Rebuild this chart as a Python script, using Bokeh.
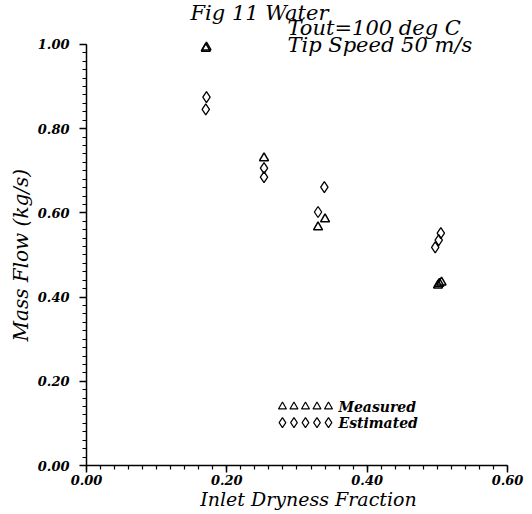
from bokeh.plotting import figure
from bokeh.models import FixedTicker, Range1d, Label, Title
from bokeh.embed import file_html
from bokeh.resources import INLINE

# ---- data ----
measured_x = [0.170, 0.171, 0.253, 0.340, 0.330, 0.501, 0.503, 0.506]
measured_y = [0.990, 0.993, 0.730, 0.585, 0.566, 0.428, 0.432, 0.435]
estimated_x = [0.171, 0.170, 0.253, 0.253, 0.339, 0.330, 0.497, 0.502, 0.505]
estimated_y = [0.875, 0.846, 0.706, 0.685, 0.661, 0.602, 0.518, 0.535, 0.552]

x_ticks = [0.0, 0.2, 0.4, 0.6]
y_ticks = [0.0, 0.2, 0.4, 0.6, 0.8, 1.0]
x_tick_labels = {0.0: "0.00", 0.2: "0.20", 0.4: "0.40", 0.6: "0.60"}
y_tick_labels = {0.0: "0.00", 0.2: "0.20", 0.4: "0.40", 0.6: "0.60", 0.8: "0.80", 1.0: "1.00"}
minor_step = 0.02

title_lines = ["Fig 11 Water", "Tout=100 deg C", "Tip Speed 50 m/s"]
legend_names = ["Measured", "Estimated"]
x_label = "Inlet Dryness Fraction"
y_label = "Mass Flow (kg/s)"

SERIF = "DejaVu Serif"

p = figure(width=530, height=512, output_backend="svg", toolbar_location=None,
           x_range=Range1d(0, 0.6328), y_range=Range1d(0, 1.1043),
           min_border_left=86, min_border_right=0, min_border_top=0, min_border_bottom=46)
p.background_fill_color = "white"
p.border_fill_color = "white"
p.outline_line_color = None
p.grid.visible = False

for ax, ticks, labels, bounds in [(p.xaxis[0], x_ticks, x_tick_labels, (0, 0.6)),
                                  (p.yaxis[0], y_ticks, y_tick_labels, (0, 1.0))]:
    minors = [round(i * minor_step, 2) for i in range(int(round(bounds[1] / minor_step)) + 1)]
    ax.ticker = FixedTicker(ticks=ticks, minor_ticks=minors)
    ax.major_label_overrides = labels
    ax.bounds = bounds
    ax.axis_line_color = "black"
    ax.axis_line_width = 1.5
    ax.major_tick_line_color = "black"
    ax.minor_tick_line_color = "black"
    ax.major_tick_line_width = 1.5
    ax.minor_tick_line_width = 1.2
    ax.major_tick_in = 0
    ax.minor_tick_in = 0
    ax.major_label_text_font = SERIF
    ax.major_label_text_font_style = "bold italic"
    ax.major_label_text_font_size = "13px"
    ax.major_label_text_color = "black"

p.xaxis.major_tick_out = 7
p.xaxis.minor_tick_out = 4
p.xaxis.major_label_standoff = 2
p.xaxis.axis_label = x_label
p.xaxis.axis_label_standoff = 0
p.xaxis.axis_label_text_font = SERIF
p.xaxis.axis_label_text_font_style = "italic"
p.xaxis.axis_label_text_font_size = "19px"
p.xaxis.axis_label_text_color = "black"

p.yaxis.major_tick_out = 7
p.yaxis.minor_tick_out = 4
p.yaxis.major_label_standoff = 10

# y-axis title, placed to sit at the middle of the 0..1 axis
p.add_layout(Title(text=y_label, align="left", offset=124, standoff=4,
                   text_font=SERIF, text_font_style="italic", text_font_size="20px",
                   text_color="black"), "left")

# data
p.scatter(measured_x, measured_y, marker="triangle", size=9, line_color="black",
          line_width=1.5, fill_alpha=0)
p.scatter(estimated_x, estimated_y, marker="diamond", size=11, line_color="black",
          line_width=1.3, fill_alpha=0)

# legend (manual, five markers per row)
leg_x = [0.2793 + i * 0.0164 for i in range(5)]
p.scatter(leg_x, [0.1398] * 5, marker="triangle", size=8, line_color="black",
          line_width=1.2, fill_alpha=0)
p.scatter(leg_x, [0.1019] * 5, marker="diamond", size=10, line_color="black",
          line_width=1.2, fill_alpha=0)
for name, yy in zip(legend_names, [0.1398, 0.1019]):
    p.add_layout(Label(x=0.3591, y=yy, text=name, text_font=SERIF,
                       text_font_style="bold italic", text_font_size="14px",
                       text_baseline="middle", text_align="left", text_color="black"))

# titles
for txt, xx, yy in zip(title_lines, [0.1482, 0.2864, 0.2864], [1.0735, 1.0379, 0.9976]):
    p.add_layout(Label(x=xx, y=yy, text=txt, text_font=SERIF,
                       text_font_style="italic", text_font_size="21px",
                       text_baseline="middle", text_align="left", text_color="black"))

open("out.html", "w").write(file_html(p, INLINE))
